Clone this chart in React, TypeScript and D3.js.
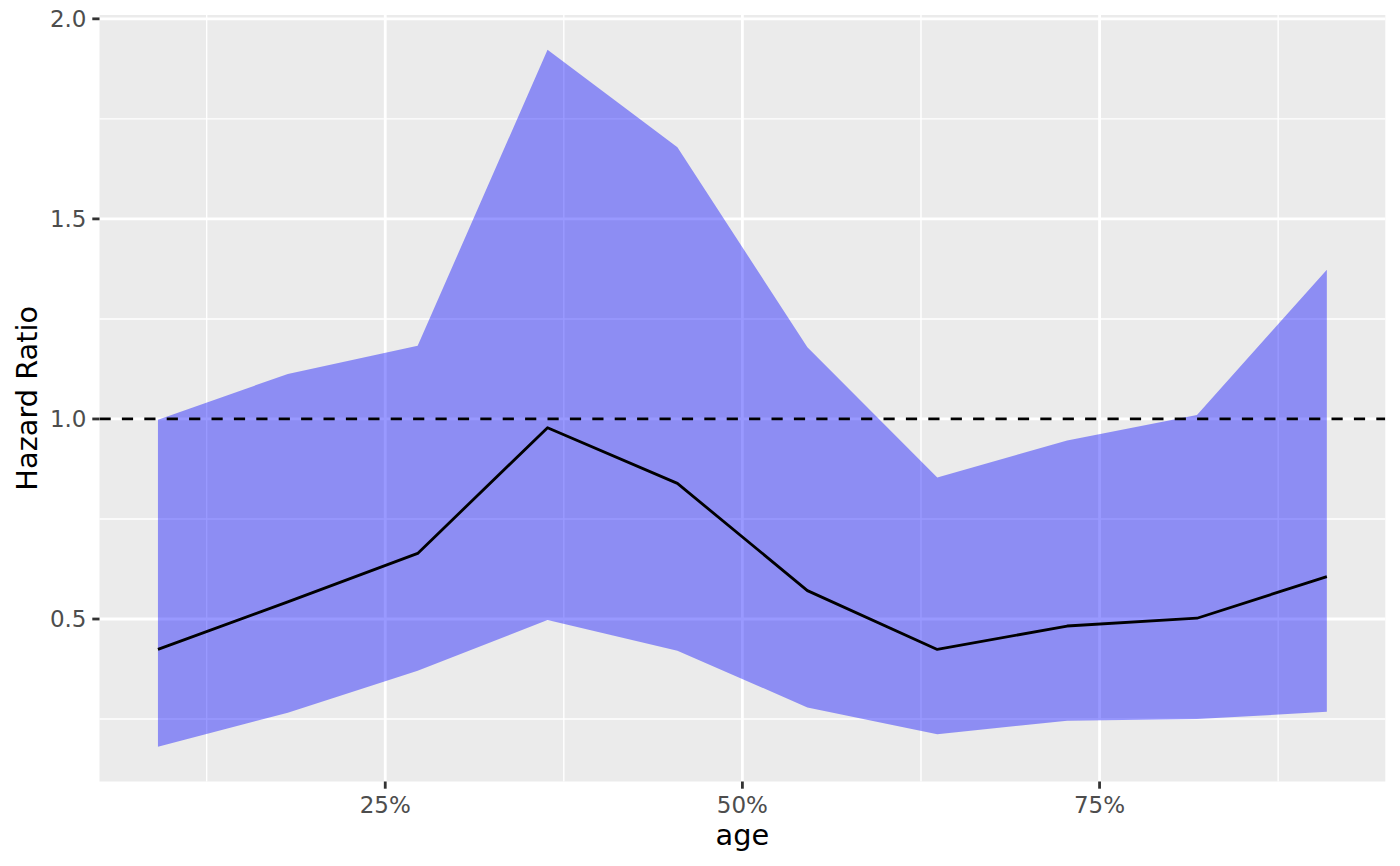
import React from "react";
import * as d3 from "d3";

// ---- data ----
const ageQuantile = [0.0909, 0.1818, 0.2727, 0.3636, 0.4545, 0.5455, 0.6364, 0.7273, 0.8182, 0.9091];
const hazardRatio = [0.424, 0.543, 0.664, 0.978, 0.839, 0.571, 0.424, 0.4825, 0.502, 0.606];
const lowerCI = [0.181, 0.266, 0.371, 0.4975, 0.421, 0.279, 0.212, 0.246, 0.25, 0.268];
const upperCI = [0.998, 1.1125, 1.183, 1.9225, 1.679, 1.179, 0.854, 0.946, 1.01, 1.373];
const xMajor = [0.25, 0.5, 0.75];
const xMinor = [0.125, 0.375, 0.625, 0.875];
const yMajor = [0.5, 1.0, 1.5, 2.0];
const yMinor = [0.25, 0.75, 1.25, 1.75];
const refLine = 1.0;
const xTitle = "age";
const yTitle = "Hazard Ratio";

const W = 1400;
const H = 866;
const panel = { left: 99.5, right: 1385.3, top: 15, bottom: 781.5 };
const lw = 2.8;
const tickLen = 7.2;
const font = "'DejaVu Sans', 'Liberation Sans', sans-serif";

export default function App() {
  const xMin = d3.min(ageQuantile)!;
  const xMax = d3.max(ageQuantile)!;
  const xr = xMax - xMin;
  const x = d3.scaleLinear().domain([xMin - 0.05 * xr, xMax + 0.05 * xr]).range([panel.left, panel.right]);

  const yLo = Math.min(d3.min(lowerCI)!, refLine);
  const yHi = Math.max(d3.max(upperCI)!, refLine);
  const yr = yHi - yLo;
  const y = d3.scaleLinear().domain([yLo - 0.05 * yr, yHi + 0.05 * yr]).range([panel.bottom, panel.top]);

  const rows = ageQuantile.map((a, i) => ({ a, hr: hazardRatio[i], lo: lowerCI[i], hi: upperCI[i] }));
  const area = d3.area<typeof rows[0]>().x((d) => x(d.a)).y0((d) => y(d.lo)).y1((d) => y(d.hi));
  const line = d3.line<typeof rows[0]>().x((d) => x(d.a)).y((d) => y(d.hr));
  const pct = d3.format(".0%");

  const pw = panel.right - panel.left;
  const ph = panel.bottom - panel.top;

  return (
    <svg width={W} height={H} style={{ position: "absolute", left: 0, top: 0, background: "#ffffff" }}>
      <defs>
        <clipPath id="pclip">
          <rect x={panel.left} y={panel.top} width={pw} height={ph} />
        </clipPath>
      </defs>
      <rect x={panel.left} y={panel.top} width={pw} height={ph} fill="#EBEBEB" />
      <g stroke="#ffffff" fill="none">
        {yMinor.map((v) => (
          <line key={"ym" + v} x1={panel.left} x2={panel.right} y1={y(v)} y2={y(v)} strokeWidth={lw / 2} />
        ))}
        {xMinor.map((v) => (
          <line key={"xm" + v} x1={x(v)} x2={x(v)} y1={panel.top} y2={panel.bottom} strokeWidth={lw / 2} />
        ))}
        {yMajor.map((v) => (
          <line key={"yM" + v} x1={panel.left} x2={panel.right} y1={y(v)} y2={y(v)} strokeWidth={lw} />
        ))}
        {xMajor.map((v) => (
          <line key={"xM" + v} x1={x(v)} x2={x(v)} y1={panel.top} y2={panel.bottom} strokeWidth={lw} />
        ))}
      </g>
      <g clipPath="url(#pclip)">
        <path d={area(rows)!} fill="#0000FF" fillOpacity={0.4} stroke="none" />
        <path d={line(rows)!} fill="none" stroke="#000000" strokeWidth={lw} strokeLinejoin="round" />
        <line
          x1={panel.left}
          x2={panel.right}
          y1={y(refLine)}
          y2={y(refLine)}
          stroke="#000000"
          strokeWidth={lw}
          strokeDasharray={`${lw * 4} ${lw * 4}`}
        />
      </g>
      {/* y axis */}
      <g>
        {yMajor.map((v) => (
          <g key={"yt" + v}>
            <line x1={panel.left - tickLen} x2={panel.left} y1={y(v)} y2={y(v)} stroke="#333333" strokeWidth={lw} />
            <text
              x={panel.left - tickLen - 5.8}
              y={y(v)}
              dy="0.36em"
              textAnchor="end"
              fontFamily={font}
              fontSize={23}
              fill="#4D4D4D"
            >
              {v.toFixed(1)}
            </text>
          </g>
        ))}
      </g>
      {/* x axis */}
      <g>
        {xMajor.map((v) => (
          <g key={"xt" + v}>
            <line x1={x(v)} x2={x(v)} y1={panel.bottom} y2={panel.bottom + tickLen} stroke="#333333" strokeWidth={lw} />
            <text x={x(v)} y={812.5} textAnchor="middle" fontFamily={font} fontSize={23} fill="#4D4D4D">
              {pct(v)}
            </text>
          </g>
        ))}
      </g>
      <text x={(panel.left + panel.right) / 2} y={845} textAnchor="middle" fontFamily={font} fontSize={28.8} fill="#000000">
        {xTitle}
      </text>
      <text
        transform={`translate(36.5, ${(panel.top + panel.bottom) / 2}) rotate(-90)`}
        textAnchor="middle"
        fontFamily={font}
        fontSize={28.8}
        fill="#000000"
      >
        {yTitle}
      </text>
    </svg>
  );
}
